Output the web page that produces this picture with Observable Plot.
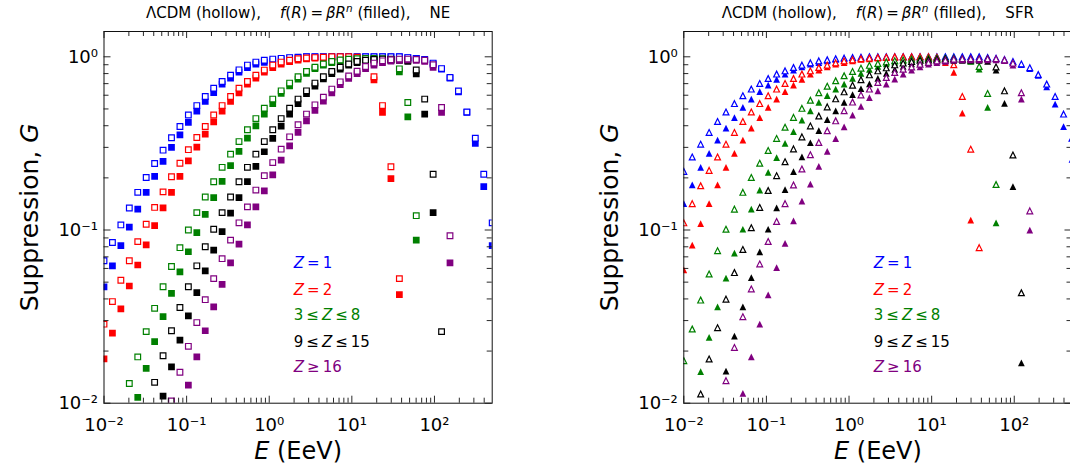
<!DOCTYPE html>
<html><head><meta charset="utf-8">
<script src="https://cdn.jsdelivr.net/npm/d3@7"></script>
<script src="https://cdn.jsdelivr.net/npm/@observablehq/plot@0.6"></script>
<style>
html,body{margin:0;padding:0;background:#fff;overflow:hidden;width:1070px;height:470px;}
#wrap{position:relative;width:1070px;height:470px;overflow:hidden;background:#fff;}
#wrap svg{position:absolute;top:0;}
</style></head><body><div id="wrap"></div>
<script>
// Energy grid (EeV)
const E = [0.0100,0.01265,0.01600,0.02025,0.02562,0.03241,0.04100,0.05187,0.06562,0.08302,
  0.1050,0.1329,0.1681,0.2127,0.2690,0.3404,0.4306,0.5447,0.6892,0.8719,
  1.103,1.395,1.765,2.233,2.825,3.575,4.522,5.721,7.238,9.156,
  11.58,14.66,18.54,23.50,29.73,37.61,47.59,60.20,76.17,96.36,
  121.9,154.2,195.1,246.9,312.3,395.2,500.0];

// ---- NE panel (squares) ----
const NE_Z1_hollow = [0.0664,0.0847,0.107,0.134,0.165,0.201,0.242,0.289,0.341,0.396,
  0.461,0.523,0.590,0.659,0.720,0.784,0.841,0.896,0.932,0.955,
  0.970,0.980,0.990,0.995,1.0,1.0,1.0,1.0,1.0,1.0,
  1.0,1.0,1.0,1.0,1.0,1.0,0.990,0.980,0.965,0.920,
  0.855,0.760,0.635,0.480,0.339,0.210,0.110];
const NE_Z1_filled = [0.047,0.0621,0.0812,0.104,0.132,0.165,0.204,0.249,0.300,0.354,
  0.418,0.486,0.552,0.622,0.696,0.753,0.816,0.867,0.908,0.930,
  0.948,0.970,0.983,0.990,1.0,1.0,1.0,1.0,1.0,1.0,
  1.0,1.0,1.0,1.0,1.0,1.0,0.990,0.978,0.960,0.910,
  0.849,0.753,0.628,0.477,0.316,0.178,0.0812];
const NE_Z2_hollow = [0.0286,0.0386,0.0513,0.0664,0.0857,0.108,0.135,0.166,0.203,0.243,
  0.291,0.342,0.396,0.461,0.523,0.590,0.659,0.720,0.784,0.838,
  0.896,0.932,0.957,0.975,0.985,0.990,0.995,1.0,1.0,1.0,
  0.995,0.980,0.767,0.523,0.232,0.0524,null,null,null,null,
  null,null,null,null,null,null,null];
const NE_Z2_filled = [0.0180,0.0254,0.0350,0.0475,0.0628,0.082,0.106,0.134,0.165,0.204,
  0.251,0.301,0.358,0.421,0.486,0.552,0.620,0.696,0.753,0.816,
  0.867,0.908,0.939,0.957,0.974,0.983,0.990,0.990,0.990,0.990,
  0.985,0.965,0.736,0.477,0.198,0.0424,null,null,null,null,
  null,null,null,null,null,null,null];
const NE_Z3_hollow = [null,null,null,0.0130,0.0185,0.0259,0.0353,0.0470,0.0616,0.0791,
  0.100,0.126,0.155,0.190,0.230,0.274,0.324,0.379,0.440,0.505,
  0.570,0.636,0.705,0.767,0.823,0.870,0.910,0.940,0.958,0.968,
  0.975,0.978,0.978,0.975,0.965,0.852,0.545,0.121,null,null,
  null,null,null,null,null,null,null];
const NE_Z3_filled = [null,null,null,null,0.0108,0.0159,0.0227,0.0316,0.0430,0.0574,
  0.0749,0.0967,0.123,0.154,0.191,0.235,0.284,0.339,0.399,0.467,
  0.537,0.614,0.680,0.743,0.801,0.855,0.895,0.925,0.945,0.958,
  0.965,0.970,0.970,0.965,0.950,0.819,0.450,0.0874,null,null,
  null,null,null,null,null,null,null];
const NE_Z9_hollow = [null,null,null,null,null,null,0.0132,0.0188,0.0262,0.0357,
  0.0470,0.0621,0.0800,0.101,0.126,0.155,0.190,0.230,0.274,0.324,
  0.379,0.440,0.505,0.570,0.636,0.705,0.767,0.823,0.870,0.910,
  0.940,0.955,0.965,0.970,0.970,0.965,0.955,0.839,0.570,0.210,
  0.0259,null,null,null,null,null,null];
const NE_Z9_filled = [null,null,null,null,null,null,null,0.0110,0.0162,0.0231,
  0.0319,0.0435,0.0581,0.0765,0.098,0.125,0.154,0.190,0.233,0.283,
  0.338,0.398,0.466,0.536,0.612,0.678,0.745,0.800,0.849,0.896,
  0.927,0.948,0.955,0.960,0.960,0.955,0.940,0.798,0.467,0.126,
  null,null,null,null,null,null,null];
const NE_Z16_hollow = [null,null,null,null,null,null,null,null,0.0103,0.0151,
  0.0213,0.0292,0.0396,0.0524,0.0683,0.0874,0.110,0.136,0.170,0.206,
  0.245,0.293,0.345,0.405,0.467,0.528,0.585,0.651,0.717,0.775,
  0.825,0.879,0.920,0.948,0.961,0.970,0.970,0.965,0.955,0.900,
  0.510,0.0926,null,null,null,null,null];
const NE_Z16_filled = [null,null,null,null,null,null,null,null,null,null,
  0.0127,0.0185,0.0262,0.0360,0.0486,0.0645,0.0830,0.107,0.136,0.168,
  0.208,0.253,0.306,0.366,0.427,0.490,0.555,0.620,0.690,0.750,
  0.800,0.855,0.895,0.925,0.945,0.955,0.960,0.955,0.940,0.868,
  0.477,0.0645,null,null,null,null,null];

// ---- SFR panel (triangles) ----
const SFR_Z1_hollow = [0.218,0.264,0.313,0.366,0.423,0.480,0.537,0.596,0.651,0.701,
  0.749,0.795,0.830,0.867,0.896,0.923,0.948,0.961,0.974,0.983,
  0.990,0.995,1.0,1.0,1.0,1.0,1.0,1.0,1.0,1.0,
  1.0,1.0,1.0,1.0,1.0,1.0,0.990,0.980,0.965,0.940,
  0.910,0.865,0.790,0.696,0.590,0.467,0.339];
const SFR_Z1_filled = [0.142,0.182,0.230,0.277,0.330,0.387,0.446,0.510,0.570,0.630,
  0.686,0.740,0.795,0.838,0.875,0.908,0.927,0.948,0.965,0.974,
  0.983,0.990,0.995,1.0,1.0,1.0,1.0,1.0,1.0,1.0,
  1.0,1.0,1.0,1.0,1.0,1.0,0.990,0.975,0.957,0.930,
  0.900,0.855,0.780,0.671,0.533,0.395,0.256];
const SFR_Z2_hollow = [0.110,0.142,0.180,0.221,0.264,0.313,0.366,0.423,0.480,0.537,
  0.596,0.651,0.701,0.749,0.795,0.830,0.867,0.896,0.923,0.948,
  0.961,0.974,0.983,0.990,0.995,1.0,1.0,1.0,1.0,1.0,
  0.995,0.970,0.900,0.590,0.293,0.0791,null,null,null,null,
  null,null,null,null,null,null,null];
const SFR_Z2_filled = [0.0589,0.0818,0.109,0.142,0.182,0.230,0.277,0.330,0.387,0.446,
  0.510,0.570,0.630,0.686,0.740,0.795,0.838,0.875,0.908,0.927,
  0.948,0.965,0.974,0.983,0.990,0.990,0.990,0.990,0.990,0.990,
  0.985,0.927,0.812,0.473,0.114,null,null,null,null,null,
  null,null,null,null,null,null,null];
const SFR_Z3_hollow = [0.0176,0.0268,0.0394,0.0557,0.0760,0.101,0.132,0.165,0.201,0.243,
  0.288,0.338,0.392,0.447,0.504,0.561,0.620,0.676,0.727,0.777,
  0.823,0.860,0.893,0.915,0.935,0.950,0.960,0.970,0.975,0.980,
  0.980,0.980,0.980,0.970,0.950,0.879,0.614,0.183,null,null,
  null,null,null,null,null,null,null];
const SFR_Z3_filled = [null,null,0.0152,0.0240,0.0360,0.0527,0.0736,0.101,0.132,0.170,
  0.215,0.262,0.316,0.370,0.431,0.488,0.545,0.596,0.651,0.696,
  0.751,0.803,0.847,0.881,0.911,0.930,0.948,0.961,0.967,0.974,
  0.975,0.975,0.975,0.965,0.940,0.849,0.510,0.110,null,null,
  null,null,null,null,null,null,null];
const SFR_Z9_hollow = [null,null,0.0113,0.0180,0.0273,0.0399,0.0568,0.0772,0.103,0.135,
  0.169,0.206,0.248,0.294,0.345,0.399,0.455,0.514,0.572,0.628,
  0.685,0.737,0.787,0.830,0.864,0.899,0.920,0.940,0.955,0.960,
  0.965,0.970,0.970,0.970,0.970,0.970,0.975,0.875,0.636,0.271,
  0.0434,null,null,null,null,null,null];
const SFR_Z9_filled = [null,null,null,null,null,0.0153,0.0244,0.0360,0.0531,0.0748,
  0.101,0.134,0.171,0.217,0.264,0.319,0.375,0.434,0.488,0.546,
  0.604,0.654,0.698,0.751,0.803,0.847,0.881,0.911,0.930,0.940,
  0.948,0.954,0.954,0.954,0.954,0.954,0.940,0.838,0.539,0.178,
  0.0171,null,null,null,null,null,null];
const SFR_Z16_hollow = [null,null,null,null,null,0.0135,0.0210,0.0316,0.0457,0.0637,
  0.0858,0.112,0.142,0.182,0.225,0.272,0.320,0.374,0.427,0.488,
  0.548,0.603,0.651,0.711,0.760,0.812,0.849,0.875,0.907,0.927,
  0.948,0.957,0.970,0.975,0.975,0.975,0.975,0.975,0.960,0.920,
  0.620,0.129,null,null,null,null,null];
const SFR_Z16_filled = [null,null,null,null,null,null,null,0.0114,0.0185,0.0286,
  0.0422,0.0607,0.0838,0.113,0.147,0.184,0.233,0.284,0.337,0.394,
  0.460,0.518,0.582,0.636,0.696,0.743,0.795,0.838,0.875,0.908,
  0.927,0.942,0.957,0.960,0.960,0.960,0.960,0.960,0.950,0.896,
  0.570,0.0999,null,null,null,null,null];

// species, colours and legend labels
const speciesColors = ["#0000ff","#ff0000","#008000","#000000","#800080"];
const legendKeys = ["@L1","@L2","@L3","@L9","@L16"];

// ticks
const xMajor = [0.01,0.1,1,10,100];
const xTickLabels = ["10\u207B\u00B2","10\u207B\u00B9","10\u2070","10\u00B9","10\u00B2"];
const xMinor = [0.02,0.03,0.04,0.05,0.06,0.07,0.08,0.09,
  0.2,0.3,0.4,0.5,0.6,0.7,0.8,0.9,
  2,3,4,5,6,7,8,9,
  20,30,40,50,60,70,80,90,
  200,300,400];
const yMajor = [0.01,0.1,1];
const yTickLabels = ["10\u207B\u00B2","10\u207B\u00B9","10\u2070"];
const yMinor = [0.02,0.03,0.04,0.05,0.06,0.07,0.08,0.09,
  0.2,0.3,0.4,0.5,0.6,0.7,0.8,0.9];

const NB = "\u00a0", TH = "\u2009";
const RICH = {
  "@titleNE": [["\u039BCDM (hollow)," + NB+NB+NB+NB, ""],["f","i"],["(",""],["R","i"],[")"+TH+"="+TH,""],["\u03B2R","i"],["n","sup"],[NB+"(filled),"+NB+NB+NB+NB+"NE",""]],
  "@titleSFR": [["\u039BCDM (hollow)," + NB+NB+NB+NB, ""],["f","i"],["(",""],["R","i"],[")"+TH+"="+TH,""],["\u03B2R","i"],["n","sup"],[NB+"(filled),"+NB+NB+NB+NB+"SFR",""]],
  "@ylabel": [["Suppression, ",""],["G","i"]],
  "@xlabel": [["E","i"],[NB+"(EeV)",""]],
  "@L1": [["Z","i"],[TH+"="+TH+"1",""]],
  "@L2": [["Z","i"],[TH+"="+TH+"2",""]],
  "@L3": [["3"+TH+"\u2264"+TH,""],["Z","i"],[TH+"\u2264"+TH+"8",""]],
  "@L9": [["9"+TH+"\u2264"+TH,""],["Z","i"],[TH+"\u2264"+TH+"15",""]],
  "@L16": [["Z","i"],[TH+"\u2265"+TH+"16",""]]
};

const SQUARE = {draw(ctx, size){ const s = Math.sqrt(size)/2; ctx.moveTo(-s,-s); ctx.lineTo(s,-s); ctx.lineTo(s,s); ctx.lineTo(-s,s); ctx.closePath(); }};
const TRIANGLE = {draw(ctx, size){ const s = Math.sqrt(size)/2; ctx.moveTo(0,-s); ctx.lineTo(s,s); ctx.lineTo(-s,s); ctx.closePath(); }};

function enrich(svg){
  d3.select(svg).selectAll("text").each(function(){
    const segs = RICH[this.textContent];
    if (!segs) return;
    this.textContent = "";
    this.setAttribute("style", "white-space:pre");
    let lift = 0;
    for (const [txt, st] of segs){
      const t = document.createElementNS("http://www.w3.org/2000/svg","tspan");
      t.textContent = txt;
      if (st === "i") t.setAttribute("font-style","italic");
      if (st === "sup"){
        t.setAttribute("font-style","italic");
        t.setAttribute("font-size","70%");
        t.setAttribute("dy","-0.6em");
        lift = 0.42;
      } else if (lift){
        t.setAttribute("dy", lift + "em");
        lift = 0;
      }
      this.appendChild(t);
    }
  });
  return svg;
}

function panel(cfg){
  const H = 470, mT = 31, mB = 67.3;
  const pH = H - mT - mB, pW = cfg.width - cfg.mL - cfg.mR;
  const marks = [];
  cfg.series.forEach((s, i) => {
    const col = speciesColors[i];
    const fd = E.map((e,k)=>({E:e, G:s.filled[k]})).filter(d=>d.G!=null);
    const hd = E.map((e,k)=>({E:e, G:s.hollow[k]})).filter(d=>d.G!=null);
    marks.push(Plot.dot(fd, {x:"E", y:"G", symbol: cfg.sym, r: cfg.rF, fill: col, stroke: "none", clip: true}));
    marks.push(Plot.dot(hd, {x:"E", y:"G", symbol: cfg.sym, r: cfg.rH, fill: "white", stroke: col, strokeWidth: 1.2, clip: true}));
  });
  const tk = {stroke: "#111", strokeWidth: 0.9};
  marks.push(
    Plot.tickX(xMajor, {x: d=>d, insetTop: pH - 7, ...tk}),
    Plot.tickX(xMajor, {x: d=>d, insetBottom: pH - 7, ...tk}),
    Plot.tickX(xMinor, {x: d=>d, insetTop: pH - 5, ...tk}),
    Plot.tickX(xMinor, {x: d=>d, insetBottom: pH - 5, ...tk}),
    Plot.tickY(yMajor, {y: d=>d, insetRight: pW - 7, ...tk}),
    Plot.tickY(yMajor, {y: d=>d, insetLeft: pW - 7, ...tk}),
    Plot.tickY(yMinor, {y: d=>d, insetRight: pW - 5, ...tk}),
    Plot.tickY(yMinor, {y: d=>d, insetLeft: pW - 5, ...tk}),
    Plot.frame({stroke: "#111", strokeWidth: 1}),
    Plot.text(xMajor, {x: d=>d, frameAnchor: "bottom", lineAnchor: "middle", textAnchor: "middle", dy: 22.5, text: (d,i)=>xTickLabels[i], fontSize: 18}),
    Plot.text(yMajor, {y: d=>d, frameAnchor: "left", lineAnchor: "middle", dx: -6, textAnchor: "end", text: (d,i)=>yTickLabels[i], fontSize: 18}),
    Plot.text(["@ylabel"], {frameAnchor: "left", lineAnchor: "middle", textAnchor: "middle", dx: -74, rotate: -90, text: d=>d, fontSize: 25}),
    Plot.text(["@xlabel"], {frameAnchor: "bottom", lineAnchor: "middle", textAnchor: "middle", dy: 48.5, text: d=>d, fontSize: 24}),
    Plot.text([cfg.titleKey], {frameAnchor: "top", lineAnchor: "middle", textAnchor: "middle", dy: -18, text: d=>d, fontSize: 15})
  );
  const legDy = [231.7, 258.3, 284, 310.7, 335.7];
  legendKeys.forEach((key, i) => {
    marks.push(Plot.text([key], {frameAnchor: "top-left", lineAnchor: "middle", dx: cfg.legDx, dy: legDy[i], textAnchor: "start", text: d=>d, fill: speciesColors[i], fontSize: 15}));
  });
  const svg = Plot.plot({
    width: cfg.width, height: H,
    marginTop: mT, marginBottom: mB, marginLeft: cfg.mL, marginRight: cfg.mR,
    x: {type: "log", domain: [0.01, 500], axis: null},
    y: {type: "log", domain: [0.01, 1.4], axis: null},
    style: {fontFamily: "DejaVu Sans", background: "white", overflow: "visible"},
    marks
  });
  return enrich(svg);
}

const wrap = document.getElementById("wrap");
const left = panel({
  width: 535, mL: 103.5, mR: 43.3, sym: SQUARE, rF: 3.8, rH: 3.2, titleKey: "@titleNE", legDx: 189.8,
  series: [
    {hollow: NE_Z1_hollow, filled: NE_Z1_filled},
    {hollow: NE_Z2_hollow, filled: NE_Z2_filled},
    {hollow: NE_Z3_hollow, filled: NE_Z3_filled},
    {hollow: NE_Z9_hollow, filled: NE_Z9_filled},
    {hollow: NE_Z16_hollow, filled: NE_Z16_filled}
  ]
});
left.style.left = "0px";
wrap.appendChild(left);
const right = panel({
  width: 500, mL: 103.3, mR: 8.5, sym: TRIANGLE, rF: 3.8, rH: 3.3, titleKey: "@titleSFR", legDx: 190,
  series: [
    {hollow: SFR_Z1_hollow, filled: SFR_Z1_filled},
    {hollow: SFR_Z2_hollow, filled: SFR_Z2_filled},
    {hollow: SFR_Z3_hollow, filled: SFR_Z3_filled},
    {hollow: SFR_Z9_hollow, filled: SFR_Z9_filled},
    {hollow: SFR_Z16_hollow, filled: SFR_Z16_filled}
  ]
});
right.style.left = "580px";
wrap.appendChild(right);
</script>
</body></html>
